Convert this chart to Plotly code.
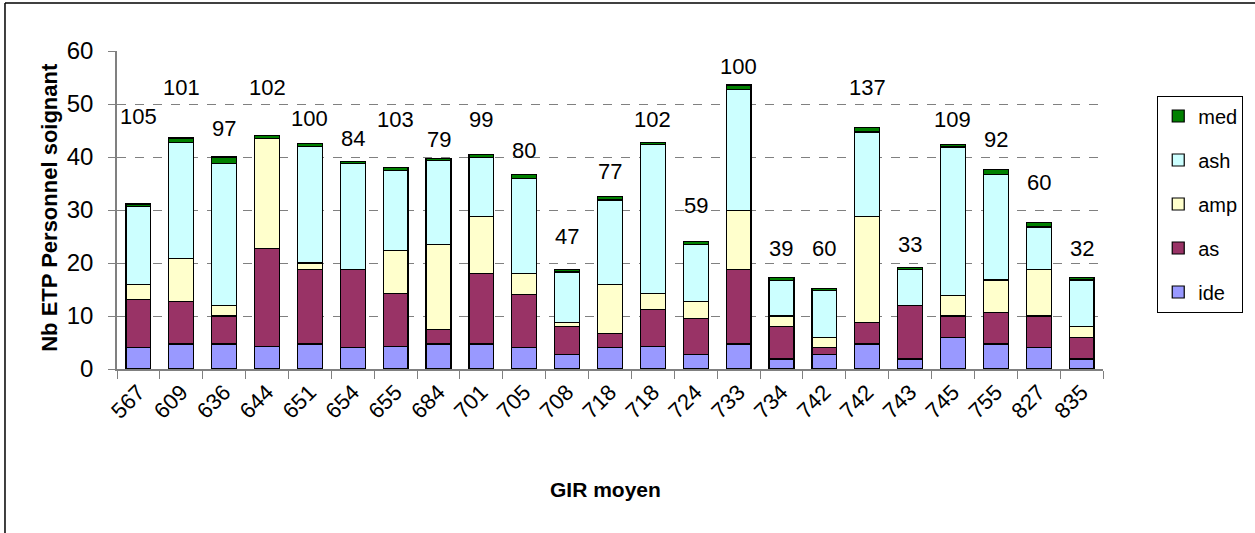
import plotly.graph_objects as go

categories = ["567", "609", "636", "644", "651", "654", "655", "684", "701", "705", "708", "718",
              "718", "724", "733", "734", "742", "742", "743", "745", "755", "827", "835"]
ide = [4.0, 4.7, 4.7, 4.3, 4.7, 4.0, 4.3, 4.7, 4.7, 4.0, 2.8, 4.0, 4.3, 2.8, 4.7, 1.9, 2.8, 4.7, 1.9, 6.0, 4.7, 4.0, 1.9]
as_ = [9.1, 8.0, 5.3, 18.5, 14.1, 14.8, 10.0, 2.8, 13.3, 10.0, 5.2, 2.7, 6.9, 6.8, 14.1, 6.1, 1.2, 4.0, 10.1, 4.0, 6.0, 6.0, 4.1]
amp = [2.8, 8.1, 2.0, 20.7, 1.2, 0.0, 8.1, 16.0, 10.8, 4.0, 0.7, 9.2, 3.1, 3.2, 11.1, 2.0, 2.0, 20.0, 0.0, 3.9, 6.1, 8.8, 2.0]
ash = [14.8, 22.0, 26.8, 0.0, 22.0, 20.0, 15.1, 15.8, 11.1, 18.0, 9.6, 16.0, 28.1, 10.7, 22.9, 6.7, 8.8, 16.0, 6.8, 28.0, 19.9, 8.0, 8.8]
med = [0.45, 0.8, 1.2, 0.5, 0.5, 0.4, 0.5, 0.4, 0.6, 0.7, 0.5, 0.6, 0.4, 0.5, 0.8, 0.5, 0.4, 0.9, 0.4, 0.5, 0.9, 0.8, 0.5]
bar_labels = ["105", "101", "97", "102", "100", "84", "103", "79", "99", "80", "47", "77",
              "102", "59", "100", "39", "60", "137", "33", "109", "92", "60", "32"]
label_height = [47.7, 53.1, 45.3, 53.1, 47.2, 43.4, 47.0, 43.3, 47.0, 41.2, 25.0, 37.2,
                47.1, 30.8, 57.0, 22.8, 22.8, 53.2, 23.5, 47.0, 43.3, 35.2, 22.8]
y_ticks = [0, 10, 20, 30, 40, 50, 60]

FONT = "Liberation Sans, Arial, sans-serif"
xs = list(range(len(categories)))

series = [("ide", ide, "#9999FF"), ("as", as_, "#993366"), ("amp", amp, "#FFFFCC"),
          ("ash", ash, "#CCFFFF"), ("med", med, "#008000")]

fig = go.Figure()
n_series = len(series)
for k, (name, vals, col) in enumerate(series):
    fig.add_trace(go.Bar(x=xs, y=vals, name=name, legendgroup=name,
                         legendrank=n_series - k,
                         marker=dict(color=col, line=dict(color="black", width=1.2)),
                         width=0.58))

annotations = []
for i, (t, h) in enumerate(zip(bar_labels, label_height)):
    annotations.append(dict(x=xs[i], y=h, xref="x", yref="y", text=t, showarrow=False,
                            font=dict(family=FONT, size=22, color="black")))
annotations.append(dict(x=0.495, y=-0.38, xref="paper", yref="paper", text="<b>GIR moyen</b>",
                        xanchor="center", yanchor="middle",
                        showarrow=False, font=dict(family=FONT, size=21, color="black")))
annotations.append(dict(x=-0.068, y=0.51, xref="paper", yref="paper",
                        text="<b>Nb ETP Personnel soignant</b>", textangle=-90,
                        xanchor="center", yanchor="middle",
                        showarrow=False, font=dict(family=FONT, size=22, color="black")))

fig.update_layout(
    barmode="stack",
    width=1255, height=533,
    margin=dict(l=117, r=136, t=51, b=164),
    paper_bgcolor="white", plot_bgcolor="white",
    font=dict(family=FONT, color="black"),
    annotations=annotations,
    legend=dict(x=1.055, y=0.86, xanchor="left", yanchor="top",
                traceorder="grouped", tracegroupgap=15, itemwidth=30,
                bordercolor="black", borderwidth=1, bgcolor="white",
                font=dict(family=FONT, size=20, color="black")),
    shapes=[
        dict(type="line", xref="paper", yref="paper", x0=-0.1136, x1=1.2, y0=1.151, y1=1.151,
             line=dict(color="black", width=1.5)),
        dict(type="line", xref="paper", yref="paper", x0=-0.1136, x1=-0.1136, y0=1.151, y1=-0.6,
             line=dict(color="black", width=1.5)),
    ],
    xaxis=dict(range=[-0.5, len(categories) - 0.5], tickmode="array", tickvals=xs,
               ticktext=categories, tickangle=-45, ticks="", showgrid=False,
               showline=True, linecolor="#808080", linewidth=1.5,
               tickfont=dict(family=FONT, size=22, color="black"),
               minor=dict(tickmode="linear", tick0=-0.5, dtick=1, ticks="outside",
                          ticklen=8, tickcolor="#808080", showgrid=False),
               zeroline=False),
    yaxis=dict(range=[0, 60], tickmode="array", tickvals=y_ticks, ticks="outside",
               ticklen=7, tickcolor="#808080", showline=True, linecolor="#808080",
               linewidth=1.5, showgrid=True, gridcolor="#808080", griddash="dash",
               gridwidth=1, zeroline=False, ticklabelstandoff=10,
               tickfont=dict(family=FONT, size=24, color="black")),
)

fig.write_html("out.html", config={"displayModeBar": False},
               post_script="document.body.style.margin='0';")
